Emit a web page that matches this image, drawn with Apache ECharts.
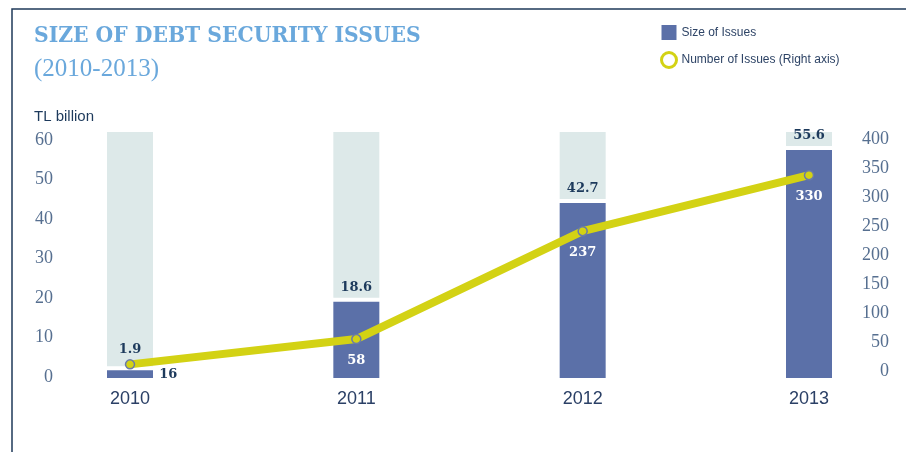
<!DOCTYPE html>
<html>
<head>
<meta charset="utf-8">
<title>Size of Debt Security Issues</title>
<script src="https://cdn.jsdelivr.net/npm/echarts@6/dist/echarts.min.js"></script>
<style>
  html, body { margin: 0; padding: 0; background: #fff; }
  #main { width: 906px; height: 452px; }
</style>
</head>
<body>
<div id="main"></div>
<script>
var years = ['2010', '2011', '2012', '2013'];
var sizes = [1.9, 18.6, 42.7, 55.6];      // TL billion, left axis
var counts = [16, 58, 237, 330];          // number of issues, right axis
var leftTicks = [0, 60, 10];              // min, max, interval
var rightTicks = [0, 400, 50];

var BLUE = '#5b70a8';
var PALE = '#dde9e9';
var YELLOW = '#d3d214';
var NAVY = '#1d3a5c';
var AXIS_TXT = '#566f90';
var myChart = echarts.init(document.getElementById('main'));

// pale column up to the axis max, a thin white gap, then the blue bar
function renderBar(params, api) {
    var i = api.value(0);
    var v = api.value(1);
    var base = api.coord([i, 0]);
    var top = api.coord([i, v]);
    var full = api.coord([i, leftTicks[1]]);
    var w = 46;
    var x = base[0] - w / 2;
    var lift = i === 0 ? 21 : 14;   // first label kept clear of the line
    return {
        type: 'group',
        children: [
            {type: 'rect', shape: {x: x, y: full[1], width: w, height: top[1] - 4 - full[1]}, style: {fill: PALE}},
            {type: 'rect', shape: {x: x, y: top[1], width: w, height: base[1] - top[1]}, style: {fill: BLUE}},
            {
                type: 'text', x: base[0], y: top[1] - lift,
                style: {
                    text: v.toFixed(1), fill: NAVY, align: 'center', verticalAlign: 'middle',
                    font: 'bold 13px "DejaVu Serif"'
                }
            }
        ]
    };
}

var lineData = counts.map(function (v, i) {
    if (i === 0) {
        // bar too short here, label sits outside to the right
        return {value: v, label: {position: 'right', offset: [14, 10], color: NAVY}};
    }
    return v;
});

var hiddenX = function (idx) {
    return {type: 'category', gridIndex: idx, data: years, boundaryGap: false, show: false};
};

var option = {
    animation: false,
    title: [
        {
            text: 'SIZE OF DEBT SECURITY ISSUES', left: 29, top: 20,
            textStyle: {color: '#6aa8dc', fontFamily: '"DejaVu Serif Condensed", "DejaVu Serif"', fontWeight: 'bold', fontSize: 22.6}
        },
        {
            text: '(2010-2013)', left: 29, top: 52,
            textStyle: {color: '#6aa8dc', fontFamily: '"Liberation Serif"', fontWeight: 'normal', fontSize: 25}
        },
        {
            text: 'TL billion', left: 29, top: 104,
            textStyle: {color: NAVY, fontFamily: '"Liberation Sans"', fontWeight: 'normal', fontSize: 15}
        }
    ],
    legend: {
        orient: 'vertical', left: 655, top: 20,
        itemWidth: 15, itemHeight: 15, itemGap: 11,
        textStyle: {color: '#2e4466', fontFamily: '"Liberation Sans"', fontSize: 12},
        data: [
            {name: 'Size of Issues', icon: 'rect'},
            {name: 'Number of Issues (Right axis)', icon: 'circle',
                itemStyle: {color: '#fff', borderColor: YELLOW, borderWidth: 3}}
        ]
    },
    graphic: [{
        type: 'polyline',
        shape: {points: [[12, 452], [12, 9], [906, 9]]},
        style: {stroke: '#1f3a5a', lineWidth: 1.5, fill: null}
    }],
    // bars, left tick labels, line, right tick labels: each sits on its own band
    grid: [
        {left: 130, right: 97, top: 132, bottom: 74},
        {left: 130, right: 97, top: 140, bottom: 75},
        {left: 130, right: 97, top: 133, bottom: 78},
        {left: 130, right: 97, top: 139, bottom: 81}
    ],
    xAxis: [
        {
            type: 'category', gridIndex: 0, data: years, boundaryGap: false,
            axisLine: {show: false}, axisTick: {show: false},
            axisLabel: {color: '#2b4066', fontFamily: '"Liberation Sans"', fontSize: 18, margin: 12}
        },
        hiddenX(1), hiddenX(2), hiddenX(3)
    ],
    yAxis: [
        {type: 'value', gridIndex: 0, min: leftTicks[0], max: leftTicks[1], show: false},
        {
            type: 'value', gridIndex: 1, position: 'left',
            min: leftTicks[0], max: leftTicks[1], interval: leftTicks[2],
            axisLine: {show: false}, axisTick: {show: false}, splitLine: {show: false},
            axisLabel: {color: AXIS_TXT, fontFamily: '"Liberation Serif"', fontSize: 18, margin: 77}
        },
        {type: 'value', gridIndex: 2, min: rightTicks[0], max: rightTicks[1], show: false},
        {
            type: 'value', gridIndex: 3, position: 'right',
            min: rightTicks[0], max: rightTicks[1], interval: rightTicks[2],
            axisLine: {show: false}, axisTick: {show: false}, splitLine: {show: false},
            axisLabel: {color: AXIS_TXT, fontFamily: '"Liberation Serif"', fontSize: 18, margin: 80, align: 'right'}
        }
    ],
    series: [
        {
            name: 'Size of Issues', type: 'custom',
            xAxisIndex: 0, yAxisIndex: 0,
            itemStyle: {color: BLUE},
            renderItem: renderBar,
            encode: {x: 0, y: 1},
            data: sizes.map(function (v, i) { return [i, v]; })
        },
        {
            name: 'Number of Issues (Right axis)', type: 'line',
            xAxisIndex: 2, yAxisIndex: 2,
            symbol: 'circle', symbolSize: 9,
            lineStyle: {color: YELLOW, width: 8},
            itemStyle: {color: YELLOW, borderColor: '#6a7ba8', borderWidth: 1.5},
            label: {
                show: true, position: 'bottom', distance: 10, color: '#fff',
                fontFamily: '"DejaVu Serif"', fontWeight: 'bold', fontSize: 13
            },
            data: lineData
        }
    ]
};
myChart.setOption(option);
</script>
</body>
</html>
